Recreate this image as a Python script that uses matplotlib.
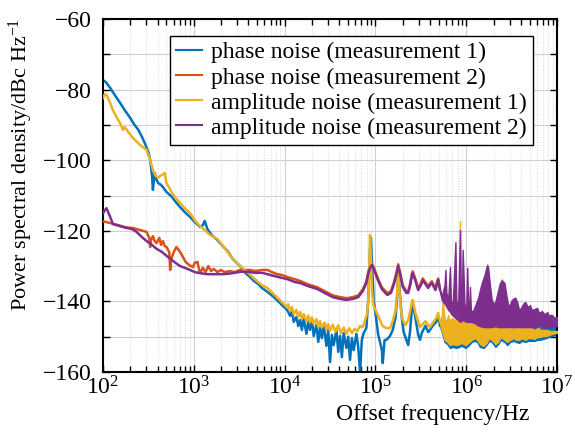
import numpy as np
import matplotlib
matplotlib.use("Agg")
import matplotlib.pyplot as plt
from matplotlib.ticker import FixedLocator, FuncFormatter, LogLocator

plt.rcParams['font.family'] = ['Liberation Serif', 'DejaVu Serif']
plt.rcParams['mathtext.fontset'] = 'custom'
plt.rcParams['mathtext.rm'] = 'Liberation Serif'
plt.rcParams['mathtext.it'] = 'Liberation Serif:italic'

# colours (matlab defaults)
c_blue = '#0072BD'
c_orange = '#D95319'
c_yellow = '#EDB120'
c_purple = '#7E2F8E'

labels = ['phase noise (measurement 1)', 'phase noise (measurement 2)',
          'amplitude noise (measurement 1)', 'amplitude noise (measurement 2)']

# ---- low / mid frequency part, log10(f) and dBc/Hz ----
pn1_logf = [2.00, 2.03, 2.08, 2.13, 2.19, 2.24, 2.30, 2.34, 2.39, 2.43, 2.46, 2.50, 2.52, 2.54, 2.55,
            2.57, 2.59, 2.61, 2.64, 2.66, 2.70, 2.76, 2.80, 2.85, 2.90, 2.96, 3.01, 3.07, 3.10, 3.12,
            3.15, 3.18, 3.21, 3.26, 3.29, 3.33, 3.38, 3.42, 3.46, 3.51, 3.54, 3.57, 3.62, 3.66, 3.71,
            3.75, 3.80, 3.84, 3.89, 3.95, 3.98, 4.02, 4.04, 4.06, 4.08, 4.10, 4.13, 4.15, 4.17, 4.19,
            4.21, 4.24, 4.26, 4.28, 4.30, 4.32, 4.35, 4.37, 4.39, 4.41, 4.43, 4.46, 4.48, 4.50, 4.52,
            4.54, 4.57, 4.59, 4.61, 4.63, 4.65, 4.68, 4.70, 4.72, 4.74, 4.76, 4.79, 4.81, 4.83, 4.85,
            4.87, 4.90, 4.92, 4.94, 4.95, 4.96, 4.98, 5.01, 5.03, 5.05, 5.07, 5.08, 5.10, 5.12, 5.14,
            5.16, 5.19, 5.22, 5.24, 5.25, 5.27, 5.29, 5.31, 5.34, 5.36, 5.38, 5.40, 5.41, 5.44, 5.47,
            5.49, 5.51, 5.55, 5.58, 5.60, 5.63, 5.67, 5.69, 5.71]
pn1_db = [-77.3, -77.8, -79.5, -81.5, -83.8, -85.8, -88.0, -89.7, -91.4, -93.4, -95.1, -97.7, -99.9, -104.2, -108.4,
          -103.6, -105.6, -106.5, -107.0, -107.6, -109.0, -110.4, -111.8, -113.3, -114.7, -116.1, -117.5, -118.9, -118.4, -117.2,
          -119.5, -120.6, -121.5, -122.6, -123.5, -124.6, -126.0, -127.7, -128.8, -130.0, -131.1, -132.0, -133.1, -134.2, -135.1,
          -136.2, -137.1, -137.9, -139.0, -140.5, -141.3, -142.2, -143.0, -144.1, -142.7, -145.8, -144.4, -147.0, -145.3, -148.1,
          -144.7, -149.2, -145.8, -148.1, -144.7, -149.8, -146.7, -151.5, -147.5, -150.4, -146.7, -152.6, -148.1, -157.2, -149.5,
          -152.4, -148.1, -154.3, -149.8, -155.8, -149.0, -153.2, -150.0, -156.6, -150.4, -153.8, -149.2, -152.9, -160.0, -150.9,
          -149.0, -147.5, -139.6, -125.4, -122.0, -128.3, -139.6, -145.3, -149.5, -151.5, -153.8, -157.5, -151.0, -150.9, -150.4,
          -149.8, -148.1, -144.7, -138.2, -131.1, -138.2, -144.7, -148.7, -150.9, -152.4, -148.7, -142.4, -140.5, -144.7, -149.5,
          -150.9, -148.9, -146.9, -148.7, -148.1, -146.9, -145.8, -144.1, -146.9]

pn2_logf = [2.00, 2.08, 2.17, 2.25, 2.33, 2.41, 2.48, 2.51, 2.52, 2.53, 2.55, 2.57, 2.59, 2.62, 2.64,
            2.66, 2.68, 2.70, 2.73, 2.74, 2.75, 2.76, 2.78, 2.81, 2.85, 2.88, 2.91, 2.95, 2.99, 3.01,
            3.04, 3.06, 3.07, 3.10, 3.13, 3.16, 3.19, 3.22, 3.26, 3.30, 3.34, 3.40, 3.45, 3.51, 3.56,
            3.62, 3.68, 3.75, 3.81, 3.86, 3.92, 3.97, 4.03, 4.11, 4.17, 4.26, 4.36, 4.44, 4.53, 4.61,
            4.68, 4.75, 4.81, 4.86, 4.90, 4.92, 4.94, 4.96, 4.98, 5.03, 5.07, 5.13, 5.17, 5.20, 5.23,
            5.25, 5.27, 5.30, 5.34, 5.36, 5.38, 5.40, 5.41, 5.44, 5.47, 5.50, 5.52, 5.55, 5.58, 5.60,
            5.62, 5.66, 5.68, 5.69, 5.71]
pn2_db = [-117.3, -117.8, -118.4, -119.0, -119.2, -119.8, -120.3, -122.0, -124.6, -122.6, -121.5, -122.9, -123.5, -122.0, -124.0,
          -122.9, -124.3, -124.6, -126.0, -131.1, -128.3, -127.4, -126.0, -124.6, -126.0, -127.4, -128.8, -129.7, -130.3, -129.1,
          -128.8, -131.1, -132.0, -130.5, -131.7, -130.0, -131.4, -130.8, -131.7, -131.1, -131.7, -131.4, -131.7, -131.1, -131.1,
          -131.1, -131.4, -131.1, -131.1, -131.7, -132.3, -132.5, -133.1, -133.7, -134.2, -135.2, -136.0, -137.1, -138.3, -138.8,
          -139.1, -138.8, -138.3, -136.6, -134.3, -131.7, -130.0, -129.2, -130.3, -133.7, -136.0, -137.7, -137.1, -134.9, -132.0,
          -129.5, -131.7, -135.4, -137.1, -137.1, -135.2, -132.3, -131.5, -133.7, -136.3, -134.9, -133.5, -134.6, -135.7, -134.9,
          -134.3, -136.3, -134.3, -133.5, -136.3]

am1_logf = [2.00, 2.02, 2.04, 2.08, 2.11, 2.15, 2.19, 2.22, 2.24, 2.28, 2.33, 2.41, 2.48, 2.52, 2.55,
            2.58, 2.61, 2.63, 2.65, 2.68, 2.70, 2.74, 2.76, 2.80, 2.85, 2.90, 2.96, 3.01, 3.07, 3.12,
            3.18, 3.26, 3.34, 3.43, 3.51, 3.59, 3.67, 3.75, 3.81, 3.89, 3.98, 4.02, 4.04, 4.06, 4.08,
            4.10, 4.13, 4.15, 4.17, 4.19, 4.21, 4.24, 4.26, 4.28, 4.30, 4.32, 4.35, 4.37, 4.39, 4.41,
            4.44, 4.46, 4.48, 4.50, 4.53, 4.56, 4.59, 4.62, 4.65, 4.68, 4.71, 4.74, 4.77, 4.80, 4.83,
            4.86, 4.88, 4.91, 4.92, 4.93, 4.94, 4.95, 4.96, 4.98, 5.02, 5.05, 5.08, 5.12, 5.16, 5.19,
            5.22, 5.24, 5.25, 5.26, 5.28, 5.30, 5.33, 5.36, 5.38, 5.40, 5.41, 5.44, 5.47, 5.49, 5.52,
            5.55, 5.58, 5.60, 5.63, 5.67, 5.69, 5.71]
am1_db = [-82.4, -81.3, -81.5, -83.8, -85.8, -87.8, -89.5, -91.4, -90.6, -92.0, -93.7, -95.7, -97.1, -99.9, -102.8,
          -104.4, -105.0, -104.4, -104.2, -103.6, -106.5, -108.2, -109.3, -110.7, -112.1, -113.6, -115.0, -117.0, -118.7, -119.8,
          -121.2, -122.3, -124.9, -128.0, -130.0, -131.7, -133.7, -135.4, -136.2, -138.2, -140.5, -141.5, -140.8, -142.8, -141.6,
          -143.6, -142.4, -144.4, -143.0, -145.0, -143.6, -145.6, -144.0, -146.0, -144.6, -146.4, -145.0, -147.2, -145.6, -147.4,
          -146.0, -148.0, -146.4, -148.4, -146.6, -148.6, -146.8, -149.0, -147.4, -149.2, -147.6, -149.0, -147.8, -148.4, -147.0,
          -147.3, -145.8, -143.3, -139.6, -132.5, -121.2, -128.3, -136.8, -141.3, -143.6, -145.3, -147.0, -147.6, -147.6, -145.6,
          -142.7, -137.1, -130.3, -135.4, -142.4, -145.3, -146.7, -145.3, -143.0, -140.2, -139.6, -143.3, -145.8, -147.3, -146.5,
          -145.6, -146.7, -147.3, -146.1, -144.7, -143.3, -145.8]

am2_logf = [2.00, 2.02, 2.04, 2.08, 2.11, 2.19, 2.26, 2.32, 2.37, 2.43, 2.48, 2.54, 2.59, 2.65, 2.70,
            2.76, 2.80, 2.85, 2.90, 2.96, 3.01, 3.07, 3.15, 3.23, 3.31, 3.37, 3.45, 3.52, 3.59, 3.67,
            3.75, 3.84, 3.93, 4.03, 4.11, 4.17, 4.26, 4.36, 4.44, 4.53, 4.61, 4.68, 4.75, 4.81, 4.86,
            4.90, 4.92, 4.94, 4.96, 4.98, 5.03, 5.07, 5.13, 5.17, 5.20, 5.23, 5.25, 5.27, 5.30, 5.34,
            5.36, 5.38, 5.40, 5.41, 5.44, 5.47, 5.50, 5.52, 5.55, 5.58, 5.60, 5.62, 5.66, 5.68, 5.69,
            5.71]
am2_db = [-115.1, -114.2, -113.6, -116.1, -118.1, -118.7, -119.2, -119.5, -120.3, -121.8, -122.9, -124.0, -125.1, -126.0, -127.1,
          -128.3, -129.1, -130.0, -130.5, -131.1, -131.7, -132.0, -132.3, -132.3, -132.3, -132.2, -131.9, -131.6, -131.6, -131.9,
          -131.9, -132.5, -133.1, -133.7, -134.5, -134.8, -135.7, -136.5, -137.6, -138.8, -139.3, -139.6, -139.3, -138.8, -137.1,
          -134.8, -132.2, -130.5, -129.7, -130.8, -134.2, -136.5, -138.2, -137.6, -135.4, -132.5, -130.0, -132.2, -135.9, -137.6,
          -137.6, -135.7, -132.8, -132.0, -134.2, -136.8, -135.4, -134.0, -135.1, -136.2, -135.4, -134.8, -136.8, -134.8, -134.0,
          -136.8]

# ---- high frequency part: dense oscillations, upper / lower envelopes ----
am2_hi_logf = [5.71, 5.73, 5.76, 5.77, 5.78, 5.80, 5.82, 5.83, 5.85, 5.88, 5.89, 5.91, 5.93, 5.94, 5.95,
               5.96, 5.98, 6.00, 6.01, 6.02, 6.03, 6.04, 6.05, 6.07, 6.10, 6.13, 6.15, 6.17, 6.20, 6.22,
               6.23, 6.24, 6.26, 6.28, 6.31, 6.33, 6.35, 6.37, 6.39, 6.42, 6.44, 6.46, 6.48, 6.50, 6.53,
               6.54, 6.56, 6.58, 6.60, 6.63, 6.65, 6.67, 6.69, 6.70, 6.72, 6.75, 6.77, 6.78, 6.80, 6.82,
               6.83, 6.86, 6.88, 6.89, 6.91, 6.93, 6.94, 6.97, 6.99, 7.00]
am2_hi = [-136.8, -138.5, -135.4, -131.1, -137.4, -139.6, -130.3, -139.6, -141.0, -123.2, -139.6, -141.0, -119.8, -139.6, -141.0,
          -125.4, -141.0, -141.0, -130.5, -141.9, -142.4, -135.9, -142.4, -143.0, -141.0, -139.0, -136.8, -134.8, -132.5, -130.5,
          -129.7, -130.5, -135.4, -139.6, -141.0, -139.0, -136.8, -134.8, -134.0, -134.8, -138.2, -141.0, -141.0, -139.6, -139.0,
          -139.0, -140.2, -142.4, -141.9, -140.5, -140.2, -141.3, -141.6, -141.0, -142.4, -142.2, -141.9, -141.9, -143.3, -143.0,
          -142.7, -143.6, -143.3, -143.0, -144.1, -143.8, -143.8, -144.7, -144.4, -144.4]
am2_lo_logf = [5.71, 5.73, 5.77, 5.80, 5.82, 5.84, 5.88, 5.91, 5.93, 5.96, 6.00, 6.04, 6.09, 6.12, 6.15,
               6.19, 6.22, 6.25, 6.28, 6.32, 6.35, 6.39, 6.44, 6.48, 6.53, 6.57, 6.61, 6.66, 6.70, 6.76,
               6.81, 6.87, 6.92, 7.00]
am2_lo = [-137.4, -139.6, -141.0, -142.4, -143.0, -143.8, -144.7, -145.3, -145.8, -145.3, -145.8, -145.8, -146.1, -146.7, -147.0,
          -147.3, -147.3, -147.3, -147.3, -147.0, -147.3, -147.3, -147.3, -147.3, -147.3, -147.3, -147.3, -147.3, -147.3, -147.3,
          -147.0, -147.3, -147.3, -147.0]

am1_hi_logf = [5.71, 5.73, 5.74, 5.76, 5.78, 5.80, 5.82, 5.84, 5.88, 5.91, 5.92, 5.93, 5.94, 5.96, 6.00,
               6.03, 6.06, 6.10, 6.13, 6.15, 6.19, 6.22, 6.23, 6.24, 6.26, 6.28, 6.31, 6.34, 6.37, 6.39,
               6.42, 6.44, 6.46, 6.49, 6.52, 6.55, 6.57, 6.60, 6.64, 6.66, 6.69, 6.71, 6.74, 6.77, 6.79,
               6.82, 6.86, 6.89, 6.92, 6.96, 7.00]
am1_hi = [-145.8, -144.1, -139.6, -144.7, -145.8, -143.8, -145.8, -144.7, -145.3, -144.7, -139.6, -117.2, -139.6, -144.7, -145.3,
          -145.8, -145.3, -144.7, -144.1, -143.0, -138.0, -132.0, -129.5, -132.0, -140.0, -146.7, -147.5, -144.0, -138.0, -133.7,
          -138.0, -146.0, -148.1, -147.5, -146.4, -146.7, -148.1, -147.5, -146.7, -147.5, -147.5, -147.3, -148.1, -147.8, -147.5,
          -148.1, -148.1, -148.1, -148.4, -148.4, -148.4]
am1_lo_logf = [5.71, 5.73, 5.76, 5.79, 5.82, 5.85, 5.89, 5.92, 5.95, 5.99, 6.02, 6.06, 6.09, 6.12, 6.15,
               6.19, 6.22, 6.25, 6.28, 6.32, 6.35, 6.38, 6.42, 6.45, 6.48, 6.52, 6.55, 6.58, 6.61, 6.65,
               6.68, 6.71, 6.75, 6.78, 6.81, 6.85, 6.88, 6.91, 6.94, 7.00]
am1_lo = [-146.5, -148.1, -150.9, -151.5, -152.4, -152.1, -152.4, -152.1, -151.8, -152.4, -151.8, -150.9, -150.4, -150.9, -152.1,
          -152.6, -151.8, -150.4, -150.9, -152.1, -151.5, -150.1, -150.9, -151.5, -150.9, -150.4, -150.9, -150.9, -150.4, -150.9,
          -150.4, -150.4, -150.6, -150.1, -150.1, -149.8, -149.8, -149.5, -149.2, -148.9]

pn1_lo = [-147.0, -148.7, -151.5, -152.1, -153.2, -152.9, -153.2, -152.9, -152.6, -153.2, -152.6, -151.5, -151.2, -151.5, -152.9,
          -153.2, -152.4, -151.2, -151.5, -152.9, -152.1, -150.9, -151.5, -152.4, -151.5, -151.2, -151.5, -151.8, -151.2, -151.5,
          -151.2, -151.2, -151.2, -150.9, -150.9, -150.6, -150.4, -150.1, -149.8, -149.5]
pn1_hi_logf = [5.71, 6.00, 6.50, 7.00]
pn1_hi = [-146.0, -148.0, -148.0, -147.0]

fig = plt.figure(figsize=(5.75, 4.34), dpi=100)
ax = fig.add_axes([0.179, 0.143, 0.79, 0.813])

lw = 1.8
# blue
ax.plot(10 ** np.array(pn1_logf), pn1_db, color=c_blue, lw=lw, label=labels[0], zorder=2)
lo_on_hi = np.interp(am1_lo_logf, pn1_hi_logf, pn1_hi)
ax.fill_between(10 ** np.array(am1_lo_logf), pn1_lo, lo_on_hi, color=c_blue, lw=1.0, zorder=2)
# orange
ax.plot(10 ** np.array(pn2_logf), pn2_db, color=c_orange, lw=lw, label=labels[1], zorder=3)
# yellow
ax.plot(10 ** np.array(am1_logf), am1_db, color=c_yellow, lw=lw, label=labels[2], zorder=4)
grid_y = np.union1d(am1_hi_logf, am1_lo_logf)
ax.fill_between(10 ** grid_y, np.interp(grid_y, am1_lo_logf, am1_lo), np.interp(grid_y, am1_hi_logf, am1_hi),
                color=c_yellow, lw=1.0, zorder=4)
# purple
ax.plot(10 ** np.array(am2_logf), am2_db, color=c_purple, lw=lw, label=labels[3], zorder=5)
grid_p = np.union1d(am2_hi_logf, am2_lo_logf)
ax.fill_between(10 ** grid_p, np.interp(grid_p, am2_lo_logf, am2_lo), np.interp(grid_p, am2_hi_logf, am2_hi),
                color=c_purple, lw=1.0, zorder=5)

ax.set_xscale('log')
ax.set_xlim(1e2, 1e7)
ax.set_ylim(-160, -60)
ax.yaxis.set_major_locator(FixedLocator(np.arange(-160, -59, 10)))
ax.yaxis.set_major_formatter(FuncFormatter(
    lambda v, p: (str(int(round(v))).replace('-', '\u2212') if int(round(v)) % 20 == 0 else '')))
ax.xaxis.set_major_locator(LogLocator(base=10, numticks=10))
ax.xaxis.set_minor_locator(LogLocator(base=10, subs=np.arange(2, 10), numticks=20))

ax.grid(True, which='major', color='#d0d0d0', lw=0.8, ls='-', zorder=0)
ax.grid(True, which='minor', axis='x', color='#d8d8d8', lw=0.7, ls=':', zorder=0)
ax.set_axisbelow(True)

ax.tick_params(which='both', direction='in', top=True, right=True, labelsize=17, width=1.0)
ax.tick_params(which='major', length=5)
ax.tick_params(axis='y', which='major', pad=8)
ax.tick_params(axis='x', which='major', pad=3)
ax.tick_params(which='minor', length=4)
for s in ax.spines.values():
    s.set_linewidth(1.5)

ax.set_xlabel('Offset frequency/Hz', fontsize=17)
ax.xaxis.set_label_coords(0.727, -0.09)
ax.set_ylabel('Power spectral density/dBc Hz$^{-1}$', fontsize=16)
ax.yaxis.set_label_coords(-0.15, 0.588)

leg = ax.legend(loc='upper right', bbox_to_anchor=(0.947, 0.952), fontsize=17, frameon=True,
                fancybox=False, edgecolor='black', framealpha=1, handlelength=1.1, handletextpad=0.4,
                labelspacing=0.15, borderpad=0.25, borderaxespad=0)
leg.get_frame().set_linewidth(1.0)
for h in leg.get_lines():
    h.set_linewidth(1.5)

fig.savefig('out.png', dpi=100)
